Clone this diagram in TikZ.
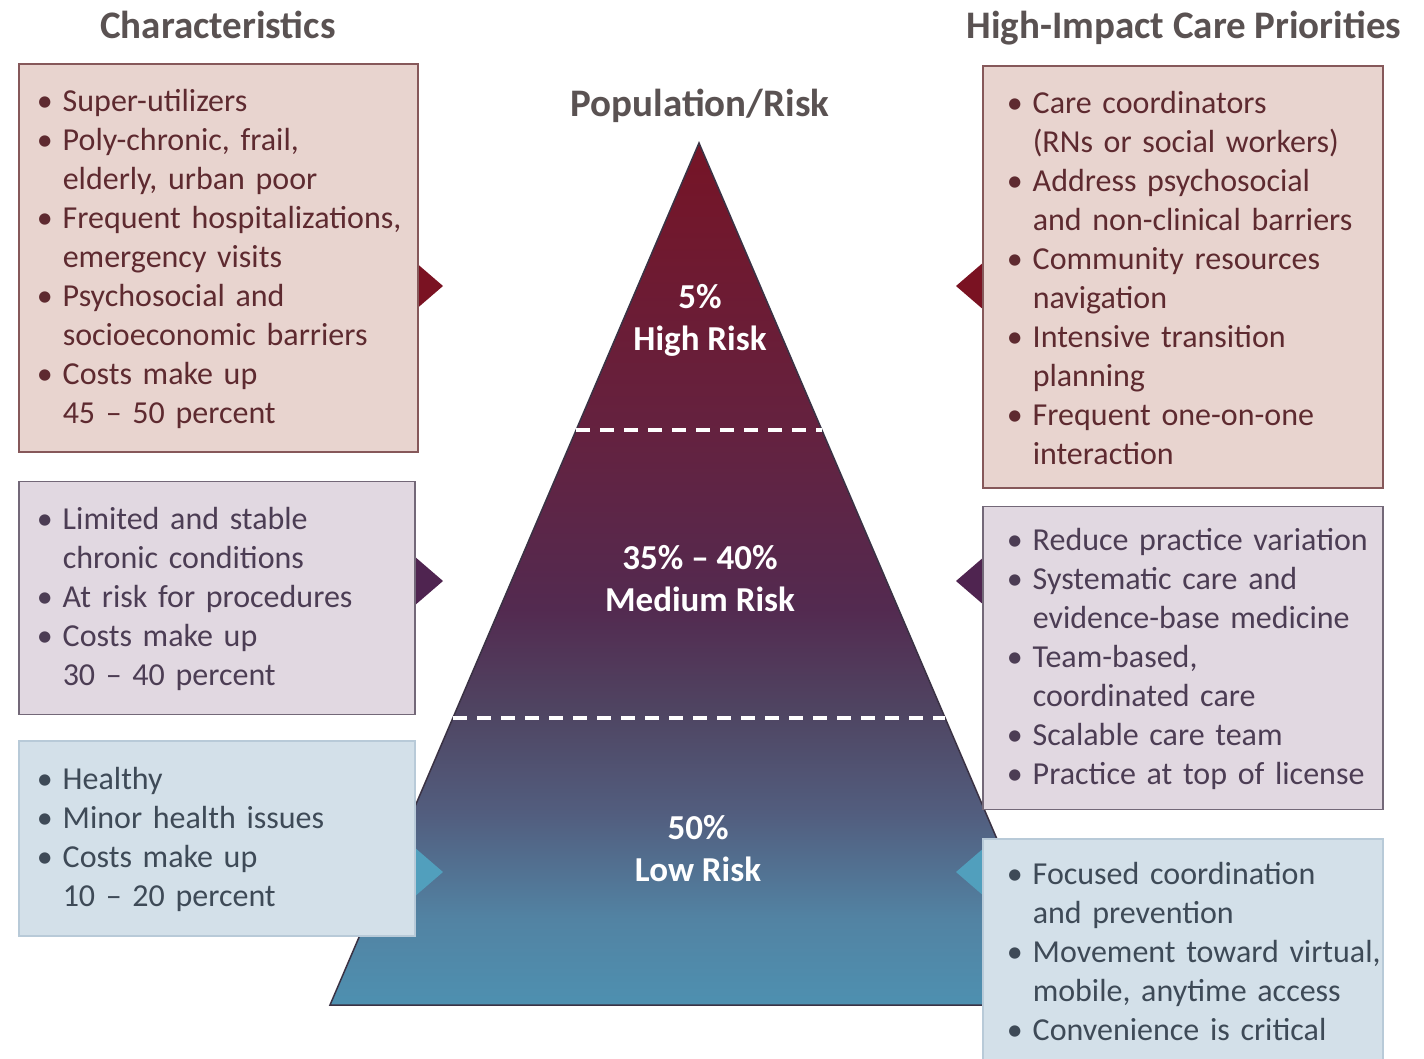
\documentclass[tikz,border=0pt]{standalone}
\usepackage{fontspec}
\setmainfont{Carlito}
\usepackage{xcolor}
\usetikzlibrary{positioning,calc}

\definecolor{headText}{HTML}{5A5252}
\definecolor{hiFill}{HTML}{E8D4CF}
\definecolor{hiLine}{HTML}{86585A}
\definecolor{hiText}{HTML}{5E2A30}
\definecolor{hiMark}{HTML}{7A1222}
\definecolor{medFill}{HTML}{E1D8E1}
\definecolor{medLine}{HTML}{736878}
\definecolor{medText}{HTML}{4C3D54}
\definecolor{medMark}{HTML}{4F2450}
\definecolor{loFill}{HTML}{D3E0E9}
\definecolor{loLine}{HTML}{B8CAD8}
\definecolor{loText}{HTML}{3E4A57}
\definecolor{loMark}{HTML}{519FBD}
\definecolor{pyrEdge}{HTML}{3A3244}
% ramp stops, base to apex
\definecolor{rampA}{HTML}{4E90B0}
\definecolor{rampB}{HTML}{5283A3}
\definecolor{rampC}{HTML}{525E7F}
\definecolor{rampD}{HTML}{4F4562}
\definecolor{rampE}{HTML}{532A50}
\definecolor{rampF}{HTML}{642240}
\definecolor{rampG}{HTML}{761426}

% colour ramp of the pyramid, bottom (25bp) to top (75bp)
\pgfdeclareverticalshading{riskfade}{100bp}{%
  color(0bp)=(rampA);color(25bp)=(rampA);
  color(30bp)=(rampB);color(36bp)=(rampC);
  color(42bp)=(rampD);color(48bp)=(rampE);
  color(58bp)=(rampF);color(75bp)=(rampG);
  color(100bp)=(rampG)}

% one bullet item with hanging indent
\newlength\listmargin
\newcommand\bul[1]{\par\leftskip=\listmargin\hangindent=26pt\hangafter=1
  \hyphenpenalty=10000\noindent\makebox[26pt][l]{\textbullet}#1\par}

\begin{document}
\begin{tikzpicture}[x=1pt, y=-1pt,
    head/.style={font=\fontsize{39}{44}\selectfont\bfseries, text=headText, anchor=base},
    tier/.style={font=\fontsize{35}{42}\selectfont\bfseries, text=white, align=center},
    listbox/.style={draw, line width=1.5pt, anchor=north west, inner sep=0pt,
      align=left, font=\fontsize{32}{39}\selectfont,
      execute at end node={\vskip14pt\hrule height0pt width0pt}},
    hibox/.style={listbox, fill=hiFill, draw=hiLine, text=hiText},
    medbox/.style={listbox, fill=medFill, draw=medLine, text=medText},
    lobox/.style={listbox, fill=loFill, draw=loLine, text=loText},
    tierline/.style={white, line width=4pt, dash pattern=on 14pt off 10pt}]
    \useasboundingbox[fill=white] (0,0) rectangle (1424,1058);

    % pyramid
    \coordinate (apex) at (699,143);
    \coordinate (baseL) at (330,1005);
    \coordinate (baseR) at (1068,1005);
    \shadedraw[shading=riskfade, draw=pyrEdge, line width=1.5pt] (apex) -- (baseL) -- (baseR) -- cycle;
    \draw[tierline] ($(apex)!1/3!(baseL)$) -- ($(apex)!1/3!(baseR)$);
    \draw[tierline] ($(apex)!2/3!(baseL)$) -- ($(apex)!2/3!(baseR)$);

    \node[tier] (highTier) at (700,320) {5\%\\High Risk};
    \node[tier] (medTier) at (700,579) {35\% -- 40\%\\Medium Risk};
    \node[tier] (lowTier) at (698,849) {50\%\\Low Risk};

    % markers next to each tier
    \foreach \ty/\mk in {286/hiMark, 581/medMark, 872/loMark} {
        \fill[\mk] (414,\ty-25) -- (443,\ty) -- (414,\ty+25) -- cycle;
        \fill[\mk] (985,\ty-25) -- (956,\ty) -- (985,\ty+25) -- cycle;
    }

    % headings
    \node[head] (charHead) at (218,38) {Characteristics};
    \node[head] (prioHead) at (1184,38) {High-Impact Care Priorities};
    \node[head] (popHead) at (700,116) {Population/Risk};

    % characteristics
    \setlength\listmargin{18pt}
    \node[hibox, text width=399pt, minimum height=388pt] (hiLeft) at (18,63) {%
        \bul{Super-utilizers}
        \bul{Poly-chronic, frail,\newline elderly, urban poor}
        \bul{Frequent hospitalizations,\newline emergency visits}
        \bul{Psychosocial and\newline socioeconomic barriers}
        \bul{Costs make up\newline 45 -- 50 percent}};
    \node[medbox, text width=396pt, minimum height=233pt,
        below=28pt of hiLeft.south west, anchor=north west] (medLeft) {%
        \bul{Limited and stable\newline chronic conditions}
        \bul{At risk for procedures}
        \bul{Costs make up\newline 30 -- 40 percent}};
    \node[lobox, text width=396pt, minimum height=195pt,
        below=25pt of medLeft.south west, anchor=north west] (loLeft) {%
        \bul{Healthy}
        \bul{Minor health issues}
        \bul{Costs make up\newline 10 -- 20 percent}};

    % care priorities
    \setlength\listmargin{24pt}
    \node[hibox, text width=400pt, minimum height=422pt] (hiRight) at (982,65) {%
        \bul{Care coordinators\newline (RNs or social workers)}
        \bul{Address psychosocial\newline and non-clinical barriers}
        \bul{Community resources\newline navigation}
        \bul{Intensive transition\newline planning}
        \bul{Frequent one-on-one\newline interaction}};
    \node[medbox, text width=400pt, minimum height=303pt,
        below=17pt of hiRight.south west, anchor=north west] (medRight) {%
        \bul{Reduce practice variation}
        \bul{Systematic care and\newline evidence-base medicine}
        \bul{Team-based,\newline coordinated care}
        \bul{Scalable care team}
        \bul{Practice at top of license}};
    \node[lobox, text width=400pt, minimum height=222pt,
        below=28pt of medRight.south west, anchor=north west] (loRight) {%
        \bul{Focused coordination\newline and prevention}
        \bul{Movement toward virtual,\newline mobile, anytime access}
        \bul{Convenience is critical}};
\end{tikzpicture}
\end{document}
